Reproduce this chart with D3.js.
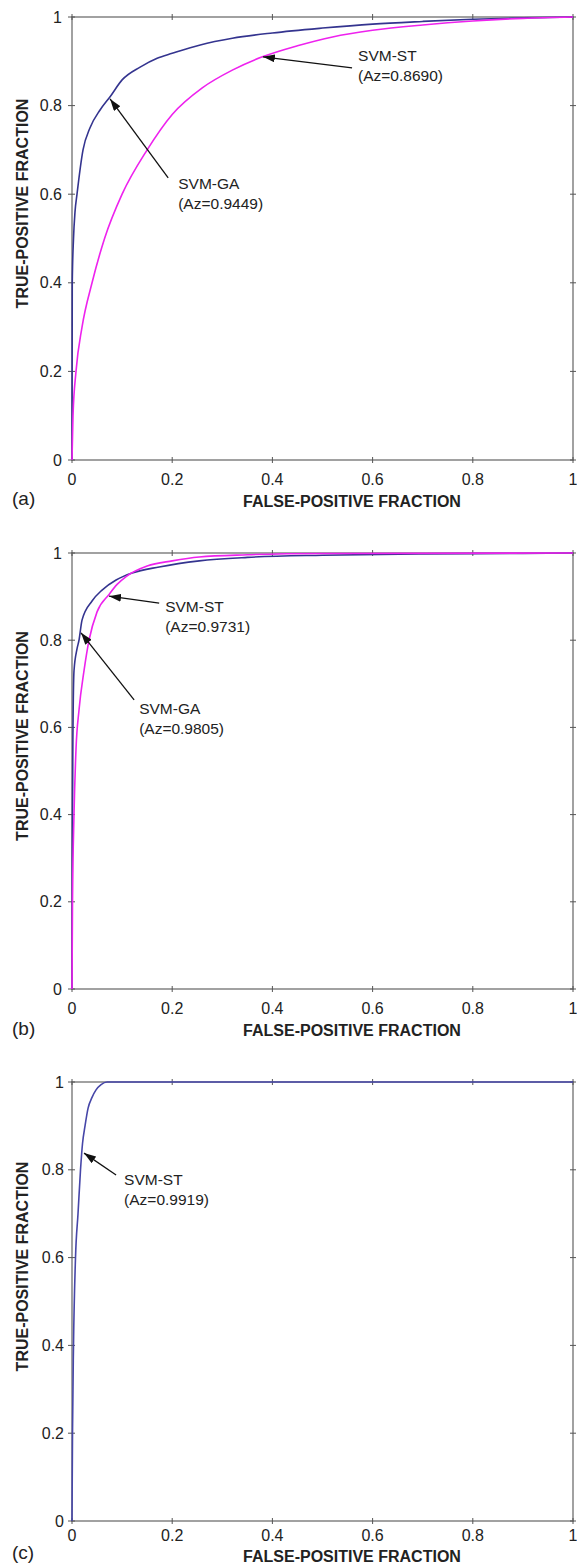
<!DOCTYPE html>
<html>
<head>
<meta charset="utf-8">
<script src="https://cdn.jsdelivr.net/npm/d3@7"></script>
<style>
  body { margin: 0; background: #fff; }
  svg { display: block; }
  text { font-family: "Liberation Sans", Arial, sans-serif; fill: #222; }
</style>
</head>
<body>
<script>
// tick values / labels shared by all three panels
const tickVals = [0, 0.2, 0.4, 0.6, 0.8, 1]
const tickLabels = ["0", "0.2", "0.4", "0.6", "0.8", "1"]

// ROC points [FPF, TPF]
// (a)
const aGA = [[0,0],[0.0005,0.4],[0.003,0.5],[0.006,0.56],[0.01,0.6],[0.022,0.7],[0.036,0.75],[0.056,0.79],[0.076,0.82],[0.1,0.858],[0.136,0.887],[0.17,0.907],[0.2,0.918],[0.256,0.937],[0.32,0.952],[0.4,0.964],[0.5,0.975],[0.6,0.984],[0.7,0.99],[0.8,0.995],[0.9,0.998],[1,1]]
const aST = [[0,0],[0.002,0.1],[0.008,0.2],[0.02,0.3],[0.04,0.4],[0.065,0.5],[0.1,0.6],[0.15,0.7],[0.2,0.78],[0.26,0.84],[0.32,0.88],[0.38,0.91],[0.45,0.935],[0.52,0.955],[0.6,0.97],[0.7,0.982],[0.8,0.991],[0.9,0.997],[1,1]]
// (b)
const bGA = [[0,0],[0.0005,0.3],[0.002,0.6],[0.004,0.73],[0.01,0.78],[0.014,0.8],[0.02,0.846],[0.04,0.89],[0.06,0.915],[0.088,0.938],[0.12,0.954],[0.174,0.968],[0.254,0.982],[0.35,0.99],[0.5,0.995],[0.7,0.998],[0.9,0.999],[1,1]]
const bST = [[0,0],[0.001,0.2],[0.004,0.4],[0.008,0.55],[0.014,0.64],[0.024,0.73],[0.034,0.8],[0.05,0.865],[0.074,0.905],[0.09,0.928],[0.108,0.946],[0.15,0.97],[0.2,0.982],[0.254,0.991],[0.35,0.996],[0.5,0.999],[1,1]]
// (c)
const cST = [[0,0],[0.001,0.2],[0.003,0.4],[0.007,0.6],[0.012,0.7],[0.017,0.8],[0.021,0.86],[0.026,0.9],[0.032,0.94],[0.04,0.965],[0.048,0.982],[0.058,0.994],[0.07,1],[1,1]]

// annotation texts
const labelsA = [["SVM-ST", "(Az=0.8690)"], ["SVM-GA", "(Az=0.9449)"]]
const labelsB = [["SVM-ST", "(Az=0.9731)"], ["SVM-GA", "(Az=0.9805)"]]
const labelsC = [["SVM-ST", "(Az=0.9919)"]]

const navy = "#34348f"
const magenta = "#ee22ee"

const W = 577, H = 1567
const left = 72, right = 573

// layout for each panel (pixels). note positions are in data units: tip, tail, text anchor
const panels = [
  { tag: "(a)", top: 17, bottom: 460, tickDy: 19, tagY: 498, titleY: 501, yLabX: 62,
    series: [{ pts: aGA, color: navy }, { pts: aST, color: magenta }],
    notes: [
      { text: labelsA[0], tip: [0.381, 0.91], tail: [0.559, 0.885], at: [0.571, 0.914] },
      { text: labelsA[1], tip: [0.076, 0.815], tail: [0.192, 0.637], at: [0.212, 0.623] }
    ] },
  { tag: "(b)", top: 553, bottom: 989, tickDy: 19, tagY: 1028, titleY: 1030, yLabX: 62,
    series: [{ pts: bGA, color: navy }, { pts: bST, color: magenta }],
    notes: [
      { text: labelsB[0], tip: [0.074, 0.901], tail: [0.174, 0.885], at: [0.186, 0.878] },
      { text: labelsB[1], tip: [0.018, 0.817], tail: [0.124, 0.663], at: [0.134, 0.644] }
    ] },
  { tag: "(c)", top: 1082, bottom: 1521, tickDy: 14, tagY: 1552, titleY: 1556, yLabX: 64,
    series: [{ pts: cST, color: "#4646a8" }],
    notes: [
      { text: labelsC[0], tip: [0.024, 0.838], tail: [0.088, 0.788], at: [0.104, 0.777] }
    ] }
]

const svg = d3.select("body").append("svg")
  .attr("width", W)
  .attr("height", H)

svg.append("defs").append("marker")
  .attr("id", "arrow")
  .attr("viewBox", "0 0 12 8")
  .attr("refX", 12)
  .attr("refY", 4)
  .attr("markerWidth", 12)
  .attr("markerHeight", 8)
  .attr("markerUnits", "userSpaceOnUse")
  .attr("orient", "auto")
  .append("path")
  .attr("d", "M0,0 L12,4 L0,8 Z")
  .attr("fill", "#111")

const x = d3.scaleLinear().domain([0, 1]).range([left, right])

panels.forEach(p => {
  const y = d3.scaleLinear().domain([0, 1]).range([p.bottom, p.top])
  const g = svg.append("g")

  // frame with ticks on every side
  const frame = g.append("g").attr("stroke", "#8a8a8a").attr("fill", "none")
  frame.append("rect")
    .attr("x", x(0)).attr("y", y(1))
    .attr("width", x(1) - x(0)).attr("height", y(0) - y(1))
    .attr("stroke-width", 1.6)

  tickVals.forEach(t => {
    frame.append("line").attr("x1", x(t)).attr("x2", x(t)).attr("y1", y(0) - 3).attr("y2", y(0) + 3).attr("stroke", "#555")
    frame.append("line").attr("x1", x(t)).attr("x2", x(t)).attr("y1", y(1) - 3).attr("y2", y(1) + 3).attr("stroke", "#555")
    frame.append("line").attr("y1", y(t)).attr("y2", y(t)).attr("x1", x(0) - 4).attr("x2", x(0) + 3).attr("stroke", "#555")
    frame.append("line").attr("y1", y(t)).attr("y2", y(t)).attr("x1", x(1) - 3).attr("x2", x(1) + 3).attr("stroke", "#555")
  })

  // tick labels
  g.selectAll(".xl").data(tickVals).enter().append("text")
    .attr("x", d => x(d))
    .attr("y", y(0) + p.tickDy)
    .attr("dy", "0.35em")
    .attr("text-anchor", "middle")
    .attr("font-size", 16)
    .text((d, i) => tickLabels[i])

  g.selectAll(".yl").data(tickVals).enter().append("text")
    .attr("x", p.yLabX)
    .attr("y", d => y(d))
    .attr("dy", "0.35em")
    .attr("text-anchor", "end")
    .attr("font-size", 16)
    .text((d, i) => tickLabels[i])

  // axis titles
  g.append("text")
    .attr("x", 352)
    .attr("y", p.titleY)
    .attr("dy", "0.35em")
    .attr("text-anchor", "middle")
    .attr("font-size", 16)
    .attr("font-weight", "bold")
    .text("FALSE-POSITIVE FRACTION")

  g.append("text")
    .attr("transform", `translate(22,${(p.top + p.bottom) / 2 - 35}) rotate(-90)`)
    .attr("dy", "0.35em")
    .attr("text-anchor", "middle")
    .attr("font-size", 16)
    .attr("font-weight", "bold")
    .text("TRUE-POSITIVE FRACTION")

  g.append("text")
    .attr("x", 12)
    .attr("y", p.tagY)
    .attr("dy", "0.35em")
    .attr("font-size", 19)
    .text(p.tag)

  // ROC curves
  const line = d3.line()
    .x(d => x(d[0]))
    .y(d => y(d[1]))
    .curve(d3.curveMonotoneX)

  p.series.forEach(s => {
    g.append("path")
      .datum(s.pts)
      .attr("d", line)
      .attr("fill", "none")
      .attr("stroke", s.color)
      .attr("stroke-width", 1.6)
  })

  // annotations
  p.notes.forEach(n => {
    g.append("line")
      .attr("x1", x(n.tail[0])).attr("y1", y(n.tail[1]))
      .attr("x2", x(n.tip[0])).attr("y2", y(n.tip[1]))
      .attr("stroke", "#111")
      .attr("stroke-width", 1.3)
      .attr("marker-end", "url(#arrow)")
    const t = g.append("text")
      .attr("x", x(n.at[0]))
      .attr("y", y(n.at[1]))
      .attr("font-size", 15.5)
    t.append("tspan").attr("x", x(n.at[0])).attr("dy", "0.35em").text(n.text[0])
    t.append("tspan").attr("x", x(n.at[0])).attr("dy", 20).text(n.text[1])
  })
})
</script>
</body>
</html>
